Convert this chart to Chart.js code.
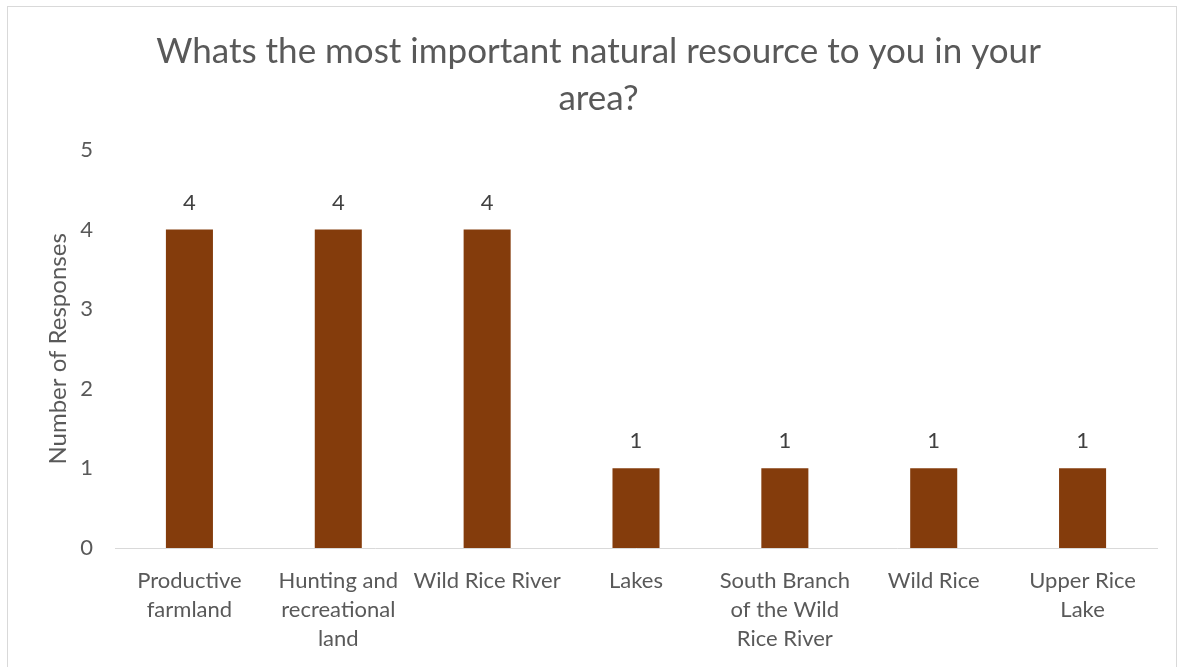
<!DOCTYPE html>
<html>
<head>
<meta charset="utf-8">
<script src="https://cdn.jsdelivr.net/npm/chart.js@4"></script>
<style>
  html, body { margin: 0; padding: 0; background: #fff; }
  .wrap { position: absolute; left: 7px; top: 6px; width: 1170px; height: 670px; border: 1px solid #d9d9d9; box-sizing: border-box; }
  .box { position: absolute; left: 0; top: 0; width: 1178px; height: 667px; }
</style>
</head>
<body>
<div class="wrap"></div>
<div class="box"><canvas class="js-resource-graph" width="1178" height="667"></canvas></div>
<script>
const categories = [
  ["Productive", "farmland"],
  ["Hunting and", "recreational", "land"],
  "Wild Rice River",
  "Lakes",
  ["South Branch", "of the Wild", "Rice River"],
  "Wild Rice",
  ["Upper Rice", "Lake"]
];
const responses = [4, 4, 4, 1, 1, 1, 1];
const yTicks = [0, 1, 2, 3, 4, 5];
const titleLines = ["Whats the most important natural resource to you in your", "area?"];

const textColor = "#595959";
const fontFamily = "Lato, 'Open Sans', sans-serif";

// value labels above each bar
const barValues = {
  id: "barValues",
  afterDatasetsDraw(chart) {
    const ctx = chart.ctx;
    const meta = chart.getDatasetMeta(0);
    ctx.save();
    ctx.fillStyle = "#404040";
    ctx.font = "22px " + fontFamily;
    ctx.textAlign = "center";
    ctx.textBaseline = "middle";
    meta.data.forEach((bar, i) => {
      ctx.fillText(responses[i], bar.x, bar.y - 27);
    });
    ctx.restore();
  },
};

const renderChartResources = () => {
  const chartHTML = document.querySelector(".js-resource-graph");
  if (!chartHTML) {
    return;
  }
  const chart = chartHTML.getContext("2d");
  chartHTML.graph = new Chart(chart, {
    type: "bar",
    data: {
      labels: categories,
      datasets: [
        {
          label: "Number of Responses",
          data: responses,
          backgroundColor: "#843C0C",
          categoryPercentage: 1,
          barPercentage: 0.316,
        },
      ],
    },
    plugins: [barValues],
    options: {
      maintainAspectRatio: false,
      responsive: false,
      animation: false,
      layout: {
        padding: { left: 40, right: 21, top: 28, bottom: 0 },
      },
      plugins: {
        legend: { display: false },
        tooltip: { enabled: false },
        title: {
          display: true,
          text: titleLines,
          color: textColor,
          font: { size: 35, family: fontFamily, weight: "normal", lineHeight: 1.34 },
          padding: { top: 0, bottom: 28 },
        },
      },
      scales: {
        x: {
          grid: { display: false, drawTicks: false },
          border: { display: true, color: "#d9d9d9", width: 1 },
          ticks: {
            color: textColor,
            font: { size: 22, family: fontFamily, lineHeight: 1.32 },
            padding: 18,
            maxRotation: 0,
            autoSkip: false,
          },
          afterFit: (scale) => { scale.height = 119; },
        },
        y: {
          min: 0,
          max: 5,
          afterBuildTicks: (scale) => { scale.ticks = yTicks.map((v) => ({ value: v })); },
          grid: { display: false, drawTicks: false },
          border: { display: false },
          ticks: {
            color: textColor,
            font: { size: 22, family: fontFamily },
            padding: 22,
          },
          title: {
            display: true,
            text: "Number of Responses",
            color: textColor,
            font: { size: 24, family: fontFamily },
          },
          afterFit: (scale) => { scale.width = 75; },
        },
      },
    },
  });
};

renderChartResources();
</script>
</body>
</html>
